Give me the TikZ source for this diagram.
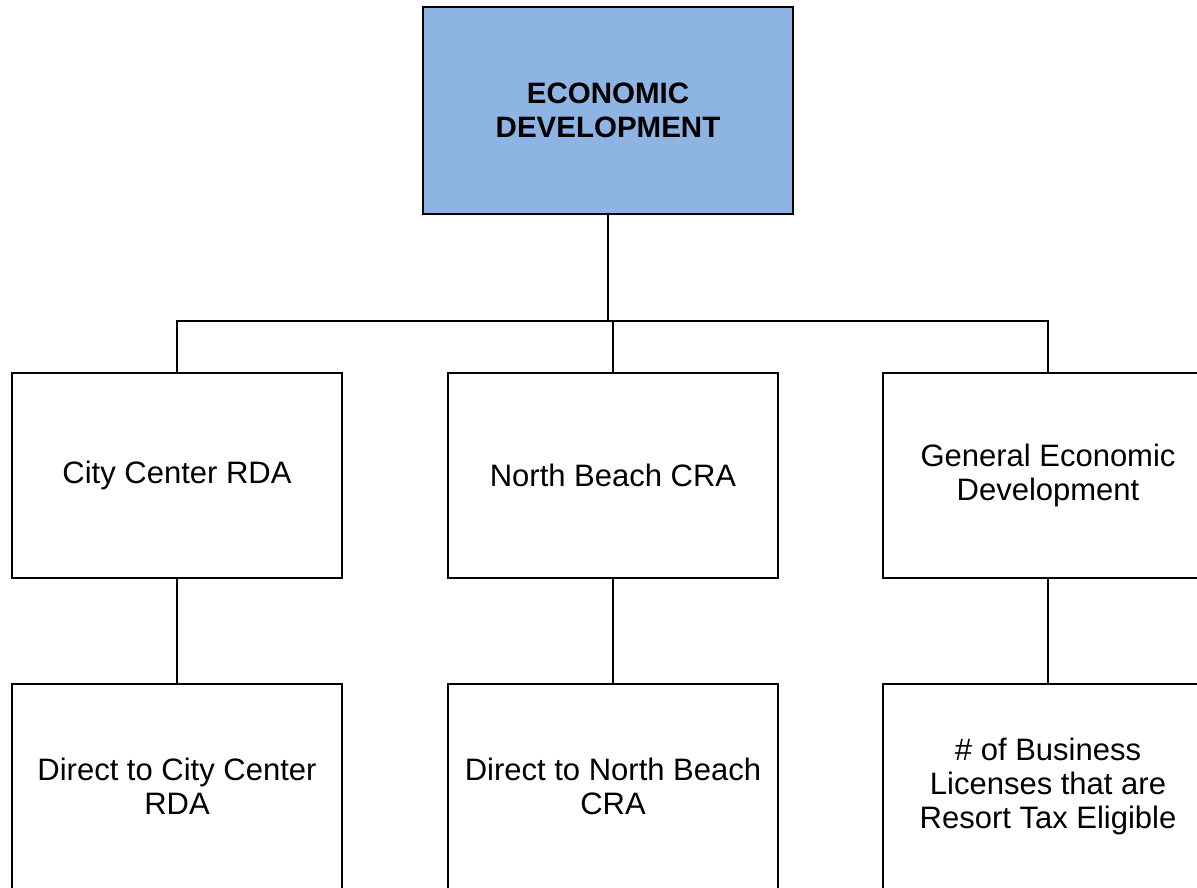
\documentclass[tikz,border=0pt]{standalone}
\usepackage{fontspec}
\setmainfont{Liberation Sans}
\definecolor{headfill}{HTML}{8EB4E3}
\begin{document}
\begin{tikzpicture}[x=1pt,y=-1pt,
  box/.style={draw=black, line width=1.6pt, rectangle, inner sep=0pt,
    align=center, font=\fontsize{31}{34}\selectfont},
  headbox/.style={box, fill=headfill, minimum width=370pt, minimum height=207pt,
    font=\fontsize{29.5}{34}\selectfont\bfseries},
  unitbox/.style={box, minimum width=330pt, minimum height=205pt},
  link/.style={draw=black, line width=1.6pt}]
  \useasboundingbox (0,0) rectangle (1197,887);
  \clip (0,0) rectangle (1197,887);

  % top of the hierarchy
  \node[headbox] (top) at (608,110.5) {ECONOMIC\\DEVELOPMENT};

  % second level
  \node[unitbox] (a1) at (177,475.5) {City Center RDA};
  \node[unitbox] (b1) at (613,475.5) {North Beach CRA};
  \node[unitbox] (c1) at (1048,475.5) {General Economic\\Development};

  % third level
  \node[unitbox] (a2) at (177,786.5) {Direct to City Center\\RDA};
  \node[unitbox] (b2) at (613,786.5) {Direct to North Beach\\CRA};
  \node[unitbox] (c2) at (1048,786.5) {\# of Business\\Licenses that are\\Resort Tax Eligible};

  % connectors
  \coordinate (bus) at (608,321);
  \draw[link] (top.south) -- (bus);
  \draw[link] (a1.north) |- (bus) -| (c1.north);
  \draw[link] (b1.north) -- (b1.north |- bus);
  \draw[link] (a1.south) -- (a2.north);
  \draw[link] (b1.south) -- (b2.north);
  \draw[link] (c1.south) -- (c2.north);
\end{tikzpicture}
\end{document}
